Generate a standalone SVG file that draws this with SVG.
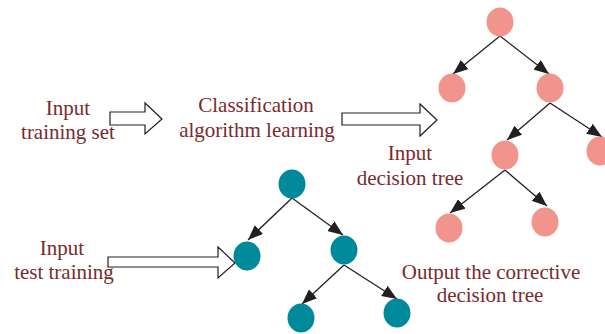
<svg xmlns="http://www.w3.org/2000/svg" width="605" height="334" viewBox="0 0 605 334">
  <style>
    .label { font-family: "Liberation Serif", "Times New Roman", serif; font-size: 21px; fill: #7a2a2e; text-anchor: middle; }
    .pink { fill: #f0948c; }
    .teal { fill: #00899a; }
    .edge { stroke: #231f20; stroke-width: 1.3; fill: none; marker-end: url(#head); }
    .block { fill: #ffffff; stroke: #231f20; stroke-width: 1.2; stroke-linejoin: miter; }
  </style>
  <defs>
    <marker id="head" viewBox="0 0 15 12" refX="15" refY="6" markerWidth="15" markerHeight="12" markerUnits="userSpaceOnUse" orient="auto">
      <path d="M0,0 L15,6 L0,12 Z" fill="#231f20"/>
    </marker>
  </defs>

  <rect width="605" height="334" fill="#ffffff"/>

  <!-- text labels -->
  <g id="input-training-set">
    <text class="label" x="68" y="115">Input</text>
    <text class="label" x="68" y="139">training set</text>
  </g>
  <g id="classification">
    <text class="label" x="256" y="112">Classification</text>
    <text class="label" x="257" y="137">algorithm learning</text>
  </g>
  <g id="input-decision-tree">
    <text class="label" x="410" y="160">Input</text>
    <text class="label" x="410" y="185">decision tree</text>
  </g>
  <g id="input-test-training">
    <text class="label" x="62" y="255">Input</text>
    <text class="label" x="64" y="279">test training</text>
  </g>
  <g id="output-tree-label">
    <text class="label" x="491" y="279">Output the corrective</text>
    <text class="label" x="490" y="302">decision tree</text>
  </g>

  <!-- hollow block arrows -->
  <g id="block-arrows">
    <path class="block" d="M110,112 H145 V103 L162,119 L145,134 V125 H110 Z"/>
    <path class="block" d="M342,113 H420 V104 L437,120 L420,136 V125 H342 Z"/>
    <path class="block" d="M108,257 H218 V247 L235,263 L218,278 V267 H108 Z"/>
  </g>

  <!-- tree connectors -->
  <g id="connectors">
    <line class="edge" x1="500" y1="36" x2="453" y2="74"/>
    <line class="edge" x1="500" y1="36" x2="549" y2="74"/>
    <line class="edge" x1="550" y1="103" x2="507" y2="140"/>
    <line class="edge" x1="550" y1="103" x2="602" y2="137"/>
    <line class="edge" x1="505" y1="170" x2="450" y2="213"/>
    <line class="edge" x1="505" y1="170" x2="547" y2="206"/>

    <line class="edge" x1="292" y1="198" x2="248" y2="240"/>
    <line class="edge" x1="292" y1="198" x2="343" y2="235"/>
    <line class="edge" x1="344" y1="265" x2="302" y2="304"/>
    <line class="edge" x1="344" y1="265" x2="397" y2="299"/>
  </g>

  <!-- decision tree nodes -->
  <g id="p-root"><ellipse class="pink" cx="500" cy="22" rx="13.5" ry="14.5"/></g>
  <g id="p-left"><ellipse class="pink" cx="452" cy="88" rx="13.5" ry="14.5"/></g>
  <g id="p-right"><ellipse class="pink" cx="550" cy="88" rx="13.5" ry="14.5"/></g>
  <g id="p-right-left"><ellipse class="pink" cx="505" cy="155" rx="13.5" ry="14.5"/></g>
  <g id="p-right-right"><ellipse class="pink" cx="600" cy="151" rx="13.5" ry="14.5"/></g>
  <g id="p-bottom-left"><ellipse class="pink" cx="449" cy="228" rx="13.5" ry="14.5"/></g>
  <g id="p-bottom-right"><ellipse class="pink" cx="545" cy="222" rx="13.5" ry="14.5"/></g>

  <!-- test tree nodes -->
  <g id="t-root"><ellipse class="teal" cx="292" cy="184" rx="13.5" ry="14.5"/></g>
  <g id="t-left"><ellipse class="teal" cx="247" cy="256" rx="13.5" ry="14.5"/></g>
  <g id="t-right"><ellipse class="teal" cx="344" cy="250" rx="13.5" ry="14.5"/></g>
  <g id="t-right-left"><ellipse class="teal" cx="301" cy="318" rx="13.5" ry="14.5"/></g>
  <g id="t-right-right"><ellipse class="teal" cx="397" cy="313" rx="13.5" ry="14.5"/></g>
</svg>
